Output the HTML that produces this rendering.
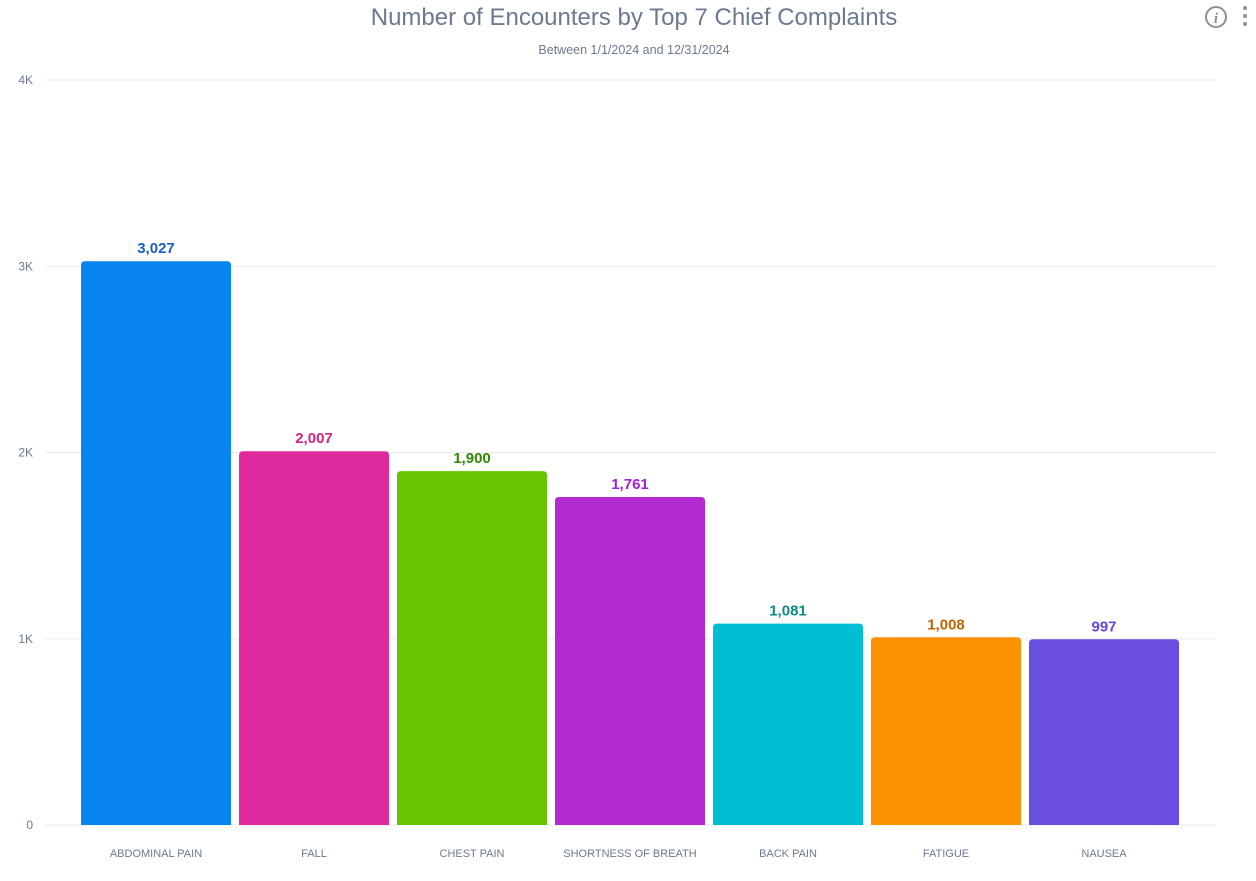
<!DOCTYPE html>
<html><head><meta charset="utf-8">
<style>
body{margin:0;background:#fff;width:1256px;height:876px;overflow:hidden;font-family:"Liberation Sans",sans-serif;}
</style></head>
<body>
<svg id="chart" width="1256" height="876" xmlns="http://www.w3.org/2000/svg">
<text x="634" y="25" text-anchor="middle" font-size="24" fill="#6b7a8f">Number of Encounters by Top 7 Chief Complaints</text>
<text x="634" y="54" text-anchor="middle" font-size="12.5" fill="#6b7a8f">Between 1/1/2024 and 12/31/2024</text>
<g>
<circle cx="1216" cy="17" r="10" fill="none" stroke="#8a8f98" stroke-width="2"/>
<text x="1216" y="23" text-anchor="middle" font-size="15" font-style="italic" font-weight="bold" font-family="Liberation Serif,serif" fill="#8a8f98">i</text>
</g>
<g fill="#8a8f98">
<circle cx="1245" cy="8" r="2"/><circle cx="1245" cy="16" r="2"/><circle cx="1245" cy="24" r="2"/>
</g>
<g id="grid"></g><g id="bars"></g>
</svg>
<script>
const categories=["ABDOMINAL PAIN","FALL","CHEST PAIN","SHORTNESS OF BREATH","BACK PAIN","FATIGUE","NAUSEA"];
const values=[3027,2007,1900,1761,1081,1008,997];
const valueLabels=["3,027","2,007","1,900","1,761","1,081","1,008","997"];
const tickValues=[0,1000,2000,3000,4000];
const tickLabels=["0","1K","2K","3K","4K"];
const barColors=["#0784f0","#de2a9c","#66c400","#b22ad0","#00bfd4","#ff9200","#6b4fe0"];
const labelColors=["#1b5fc8","#d1237f","#2f8a00","#a020d8","#0b8a8a","#c46200","#6248e0"];
const NS="http://www.w3.org/2000/svg";
const y0=825,y1=80,vmax=4000;
function y(v){return y0-(v/vmax)*(y0-y1);}
function xc(i){return 156+i*158;}
const grid=document.getElementById('grid'),bars=document.getElementById('bars');
tickValues.forEach((t,i)=>{
 const l=document.createElementNS(NS,'line');
 
 
 l.setAttribute('x1',45);l.setAttribute('x2',1216);l.setAttribute('y1',y(t));l.setAttribute('y2',y(t));
 l.setAttribute('stroke','#ebebeb');l.setAttribute('stroke-width',1);grid.appendChild(l);
 const tx=document.createElementNS(NS,'text');
 
 
 tx.setAttribute('x',33);tx.setAttribute('y',y(t)+4);tx.setAttribute('text-anchor','end');
 tx.setAttribute('font-size',12);tx.setAttribute('fill','#6b7a8f');tx.textContent=tickLabels[i];grid.appendChild(tx);
});
categories.forEach((c,i)=>{
 const top=y(values[i]),w=150,x=xc(i)-w/2,r=4;
 const p=document.createElementNS(NS,'path');
 
 
 p.setAttribute('d',`M${x},${y0}V${top+r}Q${x},${top} ${x+r},${top}H${x+w-r}Q${x+w},${top} ${x+w},${top+r}V${y0}Z`);
 p.setAttribute('fill',barColors[i]);bars.appendChild(p);
 const vl=document.createElementNS(NS,'text');
 
 
 vl.setAttribute('x',xc(i));vl.setAttribute('y',top-8);vl.setAttribute('text-anchor','middle');
 vl.setAttribute('font-size',15);vl.setAttribute('font-weight','bold');vl.setAttribute('fill',labelColors[i]);
 vl.textContent=valueLabels[i];bars.appendChild(vl);
 const cl=document.createElementNS(NS,'text');
 
 
 cl.setAttribute('x',xc(i));cl.setAttribute('y',857);cl.setAttribute('text-anchor','middle');
 cl.setAttribute('font-size',11);cl.setAttribute('fill','#6b7a8f');cl.textContent=c;bars.appendChild(cl);
});
</script>
</body></html>
